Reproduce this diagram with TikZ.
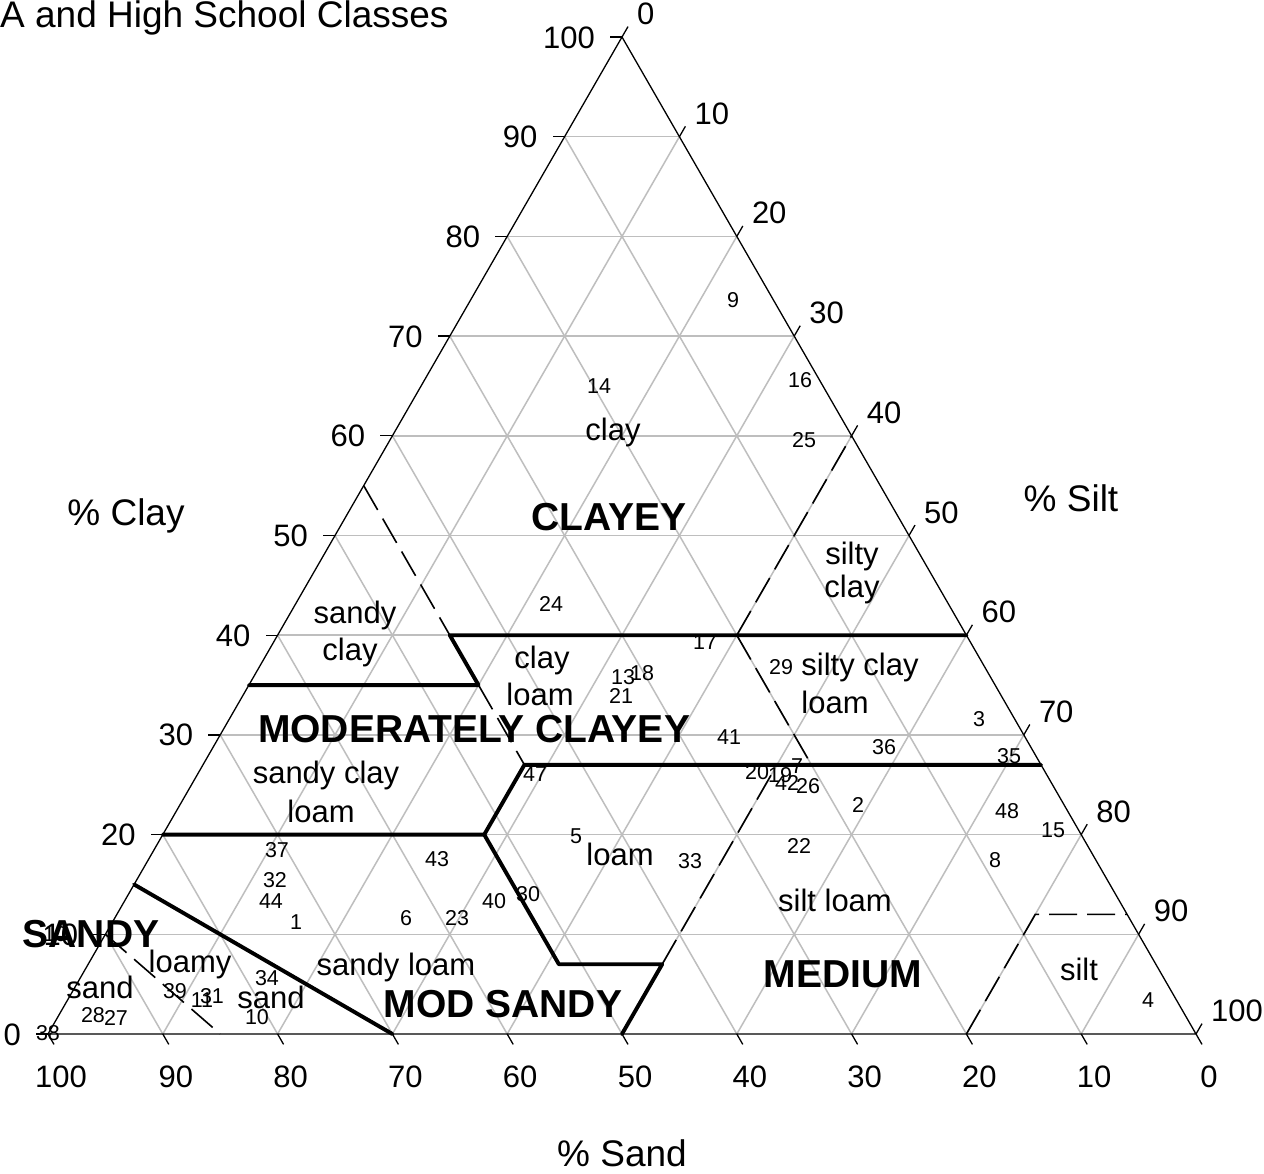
\documentclass[tikz,border=0pt]{standalone}
\usepackage{fontspec}
\setmainfont{Liberation Sans}
\usetikzlibrary{calc}
\definecolor{gridgray}{RGB}{190,190,190}
% point from (clay, silt): x = 48 + (silt + clay/2)*11.48 ; y = 1034 - clay*9.97
\newcommand{\ternpt}[3]{\coordinate (#1) at ({48+((#3)+(#2)/2)*11.48},{1034-(#2)*9.97});}
\begin{document}
\begin{tikzpicture}[x=1pt,y=-1pt,
  gridline/.style={draw=gridgray,line width=1.5pt},
  edgeline/.style={draw=black,line width=1.3pt,line join=miter},
  tickline/.style={draw=black,line width=1.3pt},
  bound/.style={draw=black,line width=3.9pt,line join=round,line cap=round},
  dbound/.style={draw=black,line width=1.6pt,dash pattern=on 28pt off 10pt},
  ticklab/.style={font=\fontsize{31}{36}\selectfont,inner sep=0pt},
  reg/.style={font=\fontsize{31}{36}\selectfont,inner sep=0pt,anchor=base},
  grp/.style={font=\fontsize{39}{45}\selectfont\bfseries,inner sep=0pt,anchor=base},
  axtitle/.style={font=\fontsize{37}{42}\selectfont,inner sep=0pt,anchor=base},
  num/.style={font=\fontsize{21.5}{25}\selectfont,inner sep=0pt}
]
\useasboundingbox (0,0) rectangle (1264,1173);
\fill[white] (0,0) rectangle (1264,1173);
\ternpt{L}{0}{0}
\ternpt{R}{0}{100}
\ternpt{T}{100}{0}

% grid
\foreach \i in {10,20,...,90}{
  \pgfmathtruncatemacro\j{100-\i}
  \ternpt{g1}{\i}{0}\ternpt{g2}{\i}{\j}
  \draw[gridline] (g1) -- (g2);
  \ternpt{g3}{0}{\i}\ternpt{g4}{\j}{\i}
  \draw[gridline] (g3) -- (g4);
  \ternpt{g5}{0}{\j}\ternpt{g6}{\j}{0}
  \draw[gridline] (g5) -- (g6);
}
% triangle
\draw[edgeline] (L) -- (R) -- (T) -- cycle;

% ticks and tick labels
\foreach \i in {0,10,...,100}{
  \pgfmathtruncatemacro\j{100-\i}
  \ternpt{cp}{\i}{0}
  \draw[tickline] (cp) -- ++(-12,0);
  \node[ticklab,anchor=base east] at ($(cp)+(-27,11)$) {\i};
  \ternpt{sp}{\j}{\i}
  \draw[tickline] (sp) -- ++(6,-10.4);
  \node[ticklab,anchor=base west] at ($(sp)+(15,-12.5)$) {\i};
  \ternpt{dp}{0}{\j}
  \draw[tickline] (dp) -- ++(6,10.4);
  \node[ticklab,anchor=base] at ($(dp)+(13,53)$) {\i};
}

% boundary points (name, clay, silt)
\ternpt{b1}{40}{60}
\ternpt{b2}{40}{15}
\ternpt{b3}{35}{20}
\ternpt{b4}{35}{0}
\ternpt{b5}{20}{0}
\ternpt{b6}{20}{28}
\ternpt{b7}{27}{28}
\ternpt{b8}{27}{73}
\ternpt{b9}{7}{41}
\ternpt{b10}{7}{50}
\ternpt{b11}{0}{50}
\ternpt{b12}{15}{0}
\ternpt{b13}{0}{30}
\ternpt{b14}{55}{0}
\ternpt{b15}{40}{40}
\ternpt{b16}{60}{40}
\ternpt{b17}{27}{53}
\ternpt{b18}{27}{50}
\ternpt{b19}{0}{80}
\ternpt{b20}{12}{80}
\ternpt{b21}{12}{88}
\ternpt{b22}{10}{0}
\ternpt{b23}{0}{15}

% dashed class boundaries
\draw[dbound] (b14) -- (b2);
\draw[dbound] (b15) -- (b16);
\draw[dbound] (b15) -- (b17);
\draw[dbound] (b3) -- (b7);
\draw[dbound] (b10) -- (b18);
\draw[dbound] (b19) -- (b20) -- (b21);
\draw[dbound] (b22) -- (b23);

% thick group boundaries
\draw[bound] (b1) -- (b2) -- (b3) -- (b4);
\draw[bound] (b5) -- (b6) -- (b7) -- (b8);
\draw[bound] (b6) -- (b9) -- (b10) -- (b11);
\draw[bound] (b12) -- (b13);

% titles
\node[axtitle,anchor=base west] (title) at (0,27) {A and High School Classes};
\node[axtitle] (tclay) at (126,525) {\% Clay};
\node[axtitle] (tsilt) at (1071,511) {\% Silt};
\node[axtitle] (tsand) at (622,1166) {\% Sand};

% class labels
\node[reg] (lclay) at (613,440) {clay};
\node[grp] (gclayey) at (609,530) {CLAYEY};
\node[reg] (lsc1) at (852,564) {silty};
\node[reg] (lsc2) at (852,597) {clay};
\node[reg] (lsac1) at (355,623) {sandy};
\node[reg] (lsac2) at (350,660) {clay};
\node[reg] (lcl1) at (542,668) {clay};
\node[reg] (lcl2) at (540,705) {loam};
\node[reg] (lscl1) at (860,675) {silty clay};
\node[reg] (lscl2) at (835,713) {loam};
\node[grp] (gmodclay) at (474,742) {MODERATELY CLAYEY};
\node[reg] (lsacl1) at (326,783) {sandy clay};
\node[reg] (lsacl2) at (321,822) {loam};
\node[reg] (lloam) at (620,865) {loam};
\node[reg] (lsil) at (835,911) {silt loam};
\node[grp] (gmedium) at (843,987) {MEDIUM};
\node[reg] (lsilt) at (1079,980) {silt};
\node[grp] (gsandy) at (91,947) {SANDY};
\node[reg] (lls1) at (190,972) {loamy};
\node[reg] (lsand) at (100,998) {sand};
\node[reg] (lls2) at (271,1008) {sand};
\node[reg] (lsl) at (396,975) {sandy loam};
\node[grp] (gmodsandy) at (503,1017) {MOD SANDY};

% sample numbers
\node[num] (n9) at (733,300) {9};
\node[num] (n14) at (599,386) {14};
\node[num] (n16) at (800,380) {16};
\node[num] (n25) at (804,440) {25};
\node[num] (n24) at (551,604) {24};
\node[num] (n17) at (705,642) {17};
\node[num] (n29) at (781,667) {29};
\node[num] (n13) at (623,677) {13};
\node[num] (n18) at (642,673) {18};
\node[num] (n21) at (621,696) {21};
\node[num] (n3) at (979,719) {3};
\node[num] (n41) at (729,737) {41};
\node[num] (n36) at (884,747) {36};
\node[num] (n35) at (1009,756) {35};
\node[num] (n47) at (535,774) {47};
\node[num] (n20) at (757,772) {20};
\node[num] (n19) at (780,775) {19};
\node[num] (n7) at (797,766) {7};
\node[num] (n42) at (787,783) {42};
\node[num] (n26) at (808,786) {26};
\node[num] (n2) at (858,805) {2};
\node[num] (n48) at (1007,811) {48};
\node[num] (n15) at (1053,830) {15};
\node[num] (n5) at (576,836) {5};
\node[num] (n37) at (277,850) {37};
\node[num] (n43) at (437,859) {43};
\node[num] (n33) at (690,861) {33};
\node[num] (n22) at (799,846) {22};
\node[num] (n8) at (995,860) {8};
\node[num] (n32) at (275,880) {32};
\node[num] (n44) at (271,901) {44};
\node[num] (n40) at (494,901) {40};
\node[num] (n30) at (528,894) {30};
\node[num] (n1) at (296,922) {1};
\node[num] (n6) at (406,918) {6};
\node[num] (n23) at (457,918) {23};
\node[num] (n10a) at (55,934) {10};
\node[num] (n34) at (267,978) {34};
\node[num] (n39) at (175,991) {39};
\node[num] (n11) at (202,1000) {11};
\node[num] (n31) at (212,996) {31};
\node[num] (n10) at (257,1017) {10};
\node[num] (n28) at (93,1015) {28};
\node[num] (n27) at (116,1018) {27};
\node[num] (n38) at (48,1033) {38};
\node[num] (n4) at (1148,1000) {4};
\end{tikzpicture}
\end{document}
